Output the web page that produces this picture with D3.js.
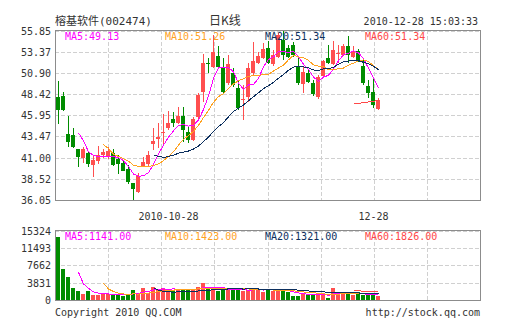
<!DOCTYPE html>
<html><head><meta charset="utf-8">
<script src="https://cdn.jsdelivr.net/npm/d3@7"></script>
<style>body{margin:0;background:#fff}svg{display:block}</style>
</head><body><svg id="chart" width="505" height="330"></svg>
<script>
// ---- data ----
const stockName = "榕基软件(002474)";
const chartTitle = "日K线";
const stamp = "2010-12-28 15:03:33";

const opens = [48.10,48.25,43.73,43.62,42.01,41.00,41.51,40.14,40.65,41.31,
  41.11,41.51,40.88,40.41,39.64,38.00,37.02,40.06,40.26,42.56,
  43.15,44.00,44.43,45.50,45.09,45.91,44.04,43.07,45.79,48.72,
  52.05,51.64,52.90,51.64,49.70,50.87,49.12,47.80,48.13,50.87,
  52.04,52.62,53.79,51.90,52.80,54.76,53.79,54.18,51.64,49.62,
  50.87,49.70,48.13,50.55,52.62,51.95,53.15,53.01,54.06,52.81,
  53.51,51.72,49.38,48.68,46.63];
const highs = [49.97,48.72,45.87,44.47,42.05,42.28,41.82,41.30,42.40,42.00,
  42.28,41.98,41.31,40.73,40.14,38.05,39.24,41.11,41.82,44.45,
  45.10,46.10,46.45,46.30,46.90,46.96,44.63,45.75,48.50,53.10,
  52.65,55.30,54.00,52.65,53.00,51.50,50.08,49.50,52.00,54.45,
  53.30,54.38,54.57,53.60,55.50,55.85,54.20,54.50,52.80,51.64,
  51.40,50.10,50.60,52.42,54.18,54.57,54.18,54.30,55.20,54.06,
  53.70,52.40,50.08,50.20,47.97];
const lows = [44.97,46.50,42.21,42.10,39.94,40.41,39.87,38.77,40.20,40.90,
  40.85,40.00,39.10,39.40,37.92,36.05,36.83,39.94,40.03,41.90,
  42.10,42.60,44.25,44.60,44.90,42.87,42.68,42.95,45.50,47.55,
  50.90,51.50,51.50,48.50,49.50,49.30,46.60,45.40,47.50,50.50,
  51.90,52.50,51.90,51.70,52.60,52.40,52.60,52.80,49.50,48.53,
  49.70,48.20,47.90,50.40,51.90,51.80,52.07,52.90,52.07,52.60,
  52.20,49.50,47.97,46.80,46.55];
const closes = [46.61,46.61,42.87,42.21,41.11,42.01,40.26,40.73,41.31,41.63,
  41.74,40.14,40.26,39.48,38.19,37.37,38.85,40.53,41.31,42.99,
  43.45,44.05,45.09,45.10,45.91,44.24,43.07,45.49,48.33,52.04,
  52.00,53.39,51.64,48.72,51.92,49.50,46.77,47.83,51.45,52.23,
  52.90,53.67,52.04,53.00,55.35,53.01,52.81,53.00,49.70,51.06,
  49.88,48.45,50.47,52.23,52.04,53.59,53.20,54.06,53.01,53.51,
  52.42,49.73,48.56,47.16,47.74];
const volumes = [14000,6786,5035,2627,1970,1313,1970,1100,1100,1240,
  1240,1240,1170,950,1100,2300,1650,2750,1650,2950,
  2400,2550,2150,2250,2450,2400,2250,2300,2950,3650,
  2450,2450,2050,2950,2150,2150,2150,2050,2250,2567,
  2300,1850,2400,2050,2250,2000,1750,900,900,1450,
  1100,1300,1100,1140,550,2700,1850,1500,1480,995,
  1700,1100,1050,1000,855];

const priceTicks = ["55.85","53.37","50.90","48.42","45.95","43.47","41.00","38.52","36.05"];
const volumeTicks = ["15324","11493","7662","3831","0"];
const maPeriods = [5, 10, 20, 60];
const priceLegend = ["MA5:49.13", "MA10:51.26", "MA20:51.34", "MA60:51.34"];
const volumeLegend = ["MA5:1141.00", "MA10:1423.00", "MA20:1321.00", "MA60:1826.00"];
const dateLabels = ["2010-10-28", "12-28"];
const dateLabelCandle = [22, 63];
const footerLeft = "Copyright 2010 QQ.COM";
const footerRight = "http://stock.qq.com";

// ---- drawing ----
const svg = d3.select("#chart");
const L = 55, R = 480;
const pTop = 30, pBot = 200, vTop = 230, vBot = 300;
const slots = 85;
const maColors = ["#ff00ff", "#ffa21f", "#0c2f5e", "#ff4848"];
const UP = "#ff4f4f", DOWN = "#008c00";
const mono = "'DejaVu Sans Mono', monospace";
const cjk = "'DejaVu Sans Mono', 'Noto Sans CJK SC', monospace";

const x = d3.scaleBand().domain(d3.range(slots)).range([L, R])
  .paddingInner(0.2).paddingOuter(0.1).round(true);
const cx = i => x(i) + 2.5;

const pMin = +priceTicks[priceTicks.length - 1], pMax = +priceTicks[0];
const y = d3.scaleLinear().domain([pMin, pMax]).range([pBot, pTop + 0.5]);
const vMax = +volumeTicks[0];
const yv = d3.scaleLinear().domain([0, vMax]).range([vBot, vTop + 0.5]);

const idx = d3.range(closes.length);
const movingAvg = (arr, n) => arr.map((_, i) => i < n - 1 ? null : d3.mean(arr.slice(i - n + 1, i + 1)));

function gridAndFrame(top, bot, tickVals, scale) {
  const g = svg.append("g").attr("shape-rendering", "crispEdges");
  // horizontal dashed grid
  tickVals.forEach(v => {
    const yy = Math.round(scale(v)) + 0.5;
    if (yy <= top + 1 || yy >= bot - 1) return;
    g.append("line").attr("x1", L).attr("x2", R).attr("y1", yy).attr("y2", yy)
      .attr("stroke", "#d0d0d0").attr("stroke-dasharray", "4,2");
  });
  // vertical dashed grid
  for (let k = 1; k < 8; k++) {
    const xx = Math.round(L + (R - L) * k / 8) + 0.5;
    g.append("line").attr("x1", xx).attr("x2", xx).attr("y1", top).attr("y2", bot)
      .attr("stroke", "#d0d0d0").attr("stroke-dasharray", "4,2");
  }
  return g;
}

// price panel
gridAndFrame(pTop, pBot, priceTicks.map(Number), y);

const candles = svg.append("g").attr("shape-rendering", "crispEdges");
idx.forEach(i => {
  const up = closes[i] >= opens[i];
  const col = up ? UP : DOWN;
  candles.append("line")
    .attr("x1", cx(i)).attr("x2", cx(i))
    .attr("y1", Math.round(y(highs[i]))).attr("y2", Math.round(y(lows[i])))
    .attr("stroke", col);
  const y0 = Math.round(y(Math.max(opens[i], closes[i])));
  const y1 = Math.round(y(Math.min(opens[i], closes[i])));
  candles.append("rect")
    .attr("x", x(i)).attr("width", x.bandwidth())
    .attr("y", y0).attr("height", Math.max(1, y1 - y0))
    .attr("fill", col);
});

const priceLine = d3.line().defined(d => d[1] != null)
  .x(d => cx(d[0])).y(d => y(d[1]));
maPeriods.forEach((n, k) => {
  const m = movingAvg(closes, n);
  svg.append("path").datum(idx.map(i => [i, m[i]]))
    .attr("d", priceLine).attr("fill", "none")
    .attr("stroke", maColors[k]).attr("stroke-width", 1)
    .attr("shape-rendering", "crispEdges");
});

// volume panel
gridAndFrame(vTop, vBot, volumeTicks.map(Number), yv);
const bars = svg.append("g").attr("shape-rendering", "crispEdges");
idx.forEach(i => {
  const up = closes[i] >= opens[i];
  const top = Math.round(yv(volumes[i]));
  bars.append("rect").attr("x", x(i)).attr("width", x.bandwidth())
    .attr("y", top).attr("height", vBot - top)
    .attr("fill", up ? UP : DOWN);
});
const volLine = d3.line().defined(d => d[1] != null)
  .x(d => cx(d[0])).y(d => yv(d[1]));
maPeriods.forEach((n, k) => {
  const m = movingAvg(volumes, n);
  svg.append("path").datum(idx.map(i => [i, m[i]]))
    .attr("d", volLine).attr("fill", "none")
    .attr("stroke", maColors[k]).attr("stroke-width", 1)
    .attr("shape-rendering", "crispEdges");
});

// frames
[[pTop, pBot], [vTop, vBot]].forEach(([t, b]) => {
  svg.append("rect").attr("x", L + 0.5).attr("y", t + 0.5)
    .attr("width", R - L).attr("height", b - t)
    .attr("fill", "none").attr("stroke", "#8c8c8c")
    .attr("shape-rendering", "crispEdges");
});

// axis labels
const txt = (xx, yy, s, anchor, color, size, fam) =>
  svg.append("text").attr("x", xx).attr("y", yy).text(s)
    .attr("text-anchor", anchor || "start")
    .attr("fill", color || "#333")
    .style("font-family", fam || mono)
    .style("font-size", (size || 10) + "px");

priceTicks.forEach(t => txt(51, y(+t) + 4, t, "end"));
volumeTicks.forEach(t => txt(51, yv(+t) + 4, t, "end"));

// legends
priceLegend.forEach((s, k) => txt(65 + 100 * k, 40, s, "start", maColors[k], 10));
volumeLegend.forEach((s, k) => txt(65 + 100 * k, 240, s, "start", maColors[k], 10));

// header
txt(55, 25, stockName, "start", "#333", 11, cjk);
txt(225, 25, chartTitle, "middle", "#333", 12, "'Noto Sans CJK SC', sans-serif");
txt(478, 25, stamp, "end", "#333", 10);

// dates under price panel
dateLabels.forEach((s, k) => txt(cx(dateLabelCandle[k]), 220, s, "middle"));

// footer
txt(55, 316, footerLeft, "start", "#333", 10);
txt(R, 316, footerRight, "end", "#333", 10);
</script>
</body></html>
